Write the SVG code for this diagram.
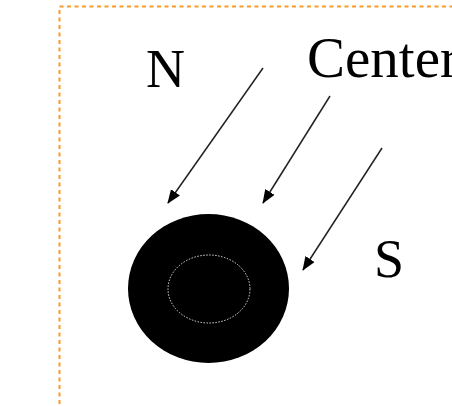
<svg xmlns="http://www.w3.org/2000/svg" width="452" height="406" viewBox="0 0 452 406">
<style>
.lbl{font-family:"Liberation Serif","Times New Roman",serif;font-size:54px;fill:#000}
.con{stroke:#222;stroke-width:1.5;fill:none}
</style>
<defs>
<marker id="ah" viewBox="0 0 14 11" refX="13" refY="5.5" markerWidth="14" markerHeight="11" markerUnits="userSpaceOnUse" orient="auto">
<path d="M0,0 L14,5.5 L0,11 Z" fill="#000"/>
</marker>
</defs>
<rect width="452" height="406" fill="#fff"/>
<rect x="59.5" y="6.5" width="420" height="420" fill="none" stroke="#fa9a28" stroke-width="2" stroke-dasharray="4,3.5"/>
<g id="n"><text class="lbl" x="146" y="87">N</text></g>
<g id="center"><text class="lbl" x="307" y="77" style="font-size:57px">Center</text></g>
<g id="s"><text class="lbl" x="374" y="277">S</text></g>
<g id="body">
<ellipse cx="208.5" cy="288.5" rx="80.5" ry="74.5" fill="#000"/>
<ellipse cx="209" cy="289" rx="41" ry="34" fill="none" stroke="#ddd" stroke-width="1" stroke-dasharray="1.5,1.5"/>
</g>
<g id="connectors">
<line class="con" x1="263" y1="68" x2="168" y2="203" marker-end="url(#ah)"/>
<line class="con" x1="330" y1="96" x2="263" y2="203" marker-end="url(#ah)"/>
<line class="con" x1="382" y1="148" x2="303" y2="270" marker-end="url(#ah)"/>
</g>
</svg>
